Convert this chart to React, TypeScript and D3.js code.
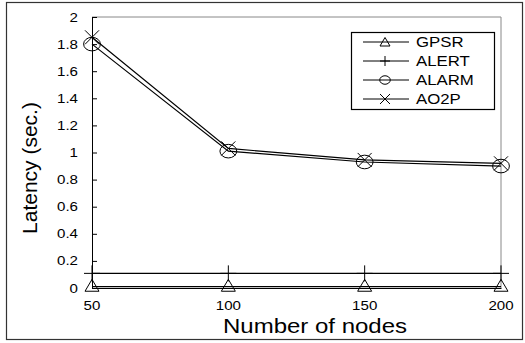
import React, { useEffect, useRef } from 'react';
import * as d3 from 'd3';

// x categories (number of nodes)
const nodes = [50, 100, 150, 200];
// latency per protocol (sec.)
const gpsr = [0.01, 0.01, 0.01, 0.01];
const alert = [0.108, 0.108, 0.108, 0.108];
const alarm = [1.80, 1.01, 0.93, 0.90];
const ao2p = [1.85, 1.03, 0.945, 0.92];
const seriesNames = ['GPSR', 'ALERT', 'ALARM', 'AO2P'];
const yTicks = [0, 0.2, 0.4, 0.6, 0.8, 1, 1.2, 1.4, 1.6, 1.8, 2];

const App = () => {
    const ref = useRef<SVGSVGElement>(null);

    useEffect(() => {
        const svg = d3.select(ref.current);
        svg.selectAll('*').remove();
        const font = 'Liberation Sans, Arial, sans-serif';
        const sx = 1.2; // horizontal stretch of the original figure text

        const x = d3.scaleLinear().domain([50, 200]).range([92, 501]);
        const y = d3.scaleLinear().domain([0, 2]).range([288, 17]);

        // helper for stretched text
        const label = (g: any, tx: number, ty: number, txt: string, size: number, anchor: string) =>
            g.append('text').attr('transform', `translate(${tx},${ty}) scale(${sx},1)`)
                .attr('text-anchor', anchor).attr('font-size', size).attr('font-family', font)
                .attr('fill', '#000').text(txt);

        // outer frame
        svg.append('rect').attr('x', 6.5).attr('y', 2.5).attr('width', 516).attr('height', 337)
            .attr('fill', 'none').attr('stroke', '#333').attr('stroke-width', 1.2);

        // plot box top/right (gray)
        svg.append('path')
            .attr('d', `M${x(50)},${y(2)}H${x(200)}V${y(0)}`)
            .attr('fill', 'none').attr('stroke', '#888').attr('stroke-width', 1);

        // y axis
        const yAxis = svg.append('g').attr('transform', `translate(${x(50)},0)`)
            .call(d3.axisLeft(y).tickValues(yTicks).tickSize(-5).tickFormat(() => ''));
        yAxis.select('.domain').attr('stroke', '#000');
        yTicks.forEach(t => label(svg, 78, y(t) + 4.5, d3.format('')(t), 12.6, 'end'));

        // x axis
        const xAxis = svg.append('g').attr('transform', `translate(0,${y(0)})`)
            .call(d3.axisBottom(x).tickValues(nodes).tickSize(0).tickFormat(() => ''));
        xAxis.select('.domain').attr('stroke', '#000');
        nodes.forEach(n => label(svg, x(n), 310, String(n), 12.6, 'middle'));

        // axis titles
        label(svg, 315, 332.5, 'Number of nodes', 20, 'middle');
        svg.append('text').attr('transform', 'translate(36.5,168) rotate(-90)').attr('text-anchor', 'middle')
            .attr('font-size', 21).attr('font-family', font).text('Latency (sec.)');

        const markers: Record<string, (g: any, cx: number, cy: number, s: number) => void> = {
            GPSR: (g, cx, cy, s) => g.append('path')
                .attr('d', `M${cx},${cy - s * 0.9}L${cx + s},${cy + s * 0.8}L${cx - s},${cy + s * 0.8}Z`)
                .attr('fill', 'none').attr('stroke', '#000'),
            ALERT: (g, cx, cy, s) => g.append('path')
                .attr('d', `M${cx - s},${cy}H${cx + s}M${cx},${cy - s}V${cy + s}`)
                .attr('fill', 'none').attr('stroke', '#000'),
            ALARM: (g, cx, cy, s) => g.append('ellipse')
                .attr('cx', cx).attr('cy', cy).attr('rx', s * 1.05).attr('ry', s * 0.85)
                .attr('fill', 'none').attr('stroke', '#000'),
            AO2P: (g, cx, cy, s) => g.append('path')
                .attr('d', `M${cx - s},${cy - s}L${cx + s},${cy + s}M${cx + s},${cy - s}L${cx - s},${cy + s}`)
                .attr('fill', 'none').attr('stroke', '#000'),
        };
        const sizes: Record<string, number> = { GPSR: 7, ALERT: 8, ALARM: 8, AO2P: 7 };
        const allData = [gpsr, alert, alarm, ao2p];

        const line = d3.line<number>().x((d, i) => x(nodes[i])).y(d => y(d));
        allData.forEach((vals, k) => {
            const name = seriesNames[k];
            svg.append('path').datum(vals).attr('d', line)
                .attr('fill', 'none').attr('stroke', '#000').attr('stroke-width', 1.2);
            const g = svg.append('g');
            vals.forEach((v, i) => markers[name](g, x(nodes[i]), y(v) + (name === 'GPSR' ? -1 : 0), sizes[name]));
        });

        // legend
        const lg = svg.append('g');
        lg.append('rect').attr('x', 351.5).attr('y', 32.5).attr('width', 143).attr('height', 77)
            .attr('fill', '#fff').attr('stroke', '#000').attr('stroke-width', 1.2);
        seriesNames.forEach((name, i) => {
            const ly = 42 + i * 19;
            lg.append('line').attr('x1', 363).attr('x2', 409).attr('y1', ly).attr('y2', ly)
                .attr('stroke', '#000').attr('stroke-width', 1);
            markers[name](lg, 385, ly, 5);
            label(lg, 416, ly + 5, name, 14, 'start');
        });
    }, []);

    return <svg ref={ref} width={525} height={343} style={{ position: 'absolute', left: 0, top: 0, background: '#fff' }} />;
};

export default App;
